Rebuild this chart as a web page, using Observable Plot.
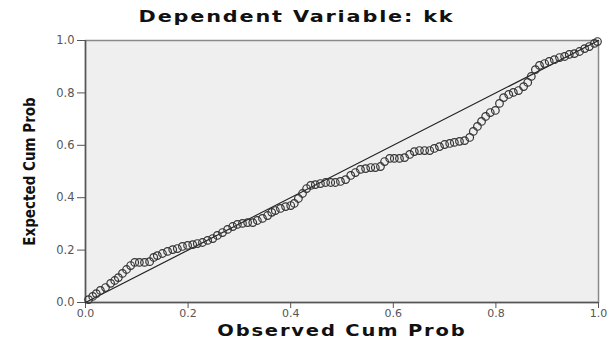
<!DOCTYPE html>
<html><head><meta charset="utf-8">
<script src="https://cdn.jsdelivr.net/npm/d3@7"></script>
<script src="https://cdn.jsdelivr.net/npm/@observablehq/plot@0.6"></script>
<style>
body{margin:0;background:#fff;}
#chart{position:relative;width:613px;height:346px;}
.lbl{position:absolute;left:0;text-align:center;font-family:"DejaVu Sans",sans-serif;font-weight:bold;color:#111;}
.lbl span{display:inline-block;transform:scaleX(1.3);letter-spacing:1.4px;}
#title{top:7px;width:594px;font-size:16px;}
#xlabel{top:324px;width:684px;font-size:15px;line-height:15px;}
</style></head><body><div id="chart"><div id="title" class="lbl"><span></span></div><div id="xlabel" class="lbl"><span></span></div></div>
<script>
const titleText = "Dependent Variable: kk";
const xLabel = "Observed Cum Prob";
const yLabel = "Expected Cum Prob";
const tickValues = [0, 0.2, 0.4, 0.6, 0.8, 1.0];
const refLine = [0, 1];

const observed = [
  0.006,0.014,0.021,0.029,0.039,0.049,0.057,0.064,0.072,0.080,
  0.088,0.096,0.105,0.115,0.125,0.133,0.140,0.150,0.160,0.170,
  0.179,0.189,0.199,0.209,0.218,0.228,0.238,
  0.248,0.257,0.267,0.277,0.287,0.296,0.306,0.316,0.326,0.335,
  0.345,0.355,0.363,0.370,0.380,0.390,0.400,0.407,0.415,0.423,
  0.431,0.439,0.448,0.458,0.468,
  0.478,0.487,0.497,0.507,0.517,0.526,0.536,0.546,0.556,0.565,
  0.575,0.583,0.593,0.602,0.612,0.622,0.632,0.641,0.651,0.661,
  0.671,0.680,0.690,0.700,
  0.710,0.719,0.729,0.739,0.749,0.756,0.764,0.772,0.780,0.789,
  0.799,0.807,0.815,0.825,0.834,0.844,0.854,0.862,0.869,0.877,
  0.885,0.895,0.904,0.914,0.924,0.934,0.943,0.953,0.963,0.973,
  0.982,0.992,0.998
];
const expected = [
  0.011,0.023,0.034,0.046,0.057,0.073,0.084,0.095,0.111,0.126,
  0.141,0.153,0.153,0.153,0.156,0.172,0.179,0.187,0.195,0.202,
  0.206,0.214,0.218,0.221,0.225,0.229,0.237,
  0.244,0.256,0.267,0.279,0.290,0.298,0.302,0.305,0.305,0.313,
  0.321,0.332,0.344,0.351,0.359,0.366,0.370,0.378,0.397,0.416,
  0.435,0.447,0.450,0.454,0.458,
  0.458,0.458,0.462,0.469,0.485,0.496,0.508,0.511,0.515,0.515,
  0.519,0.538,0.550,0.550,0.550,0.553,0.565,0.576,0.580,0.580,
  0.580,0.588,0.595,0.603,
  0.607,0.611,0.615,0.618,0.630,0.653,0.672,0.691,0.710,0.725,
  0.733,0.760,0.782,0.794,0.802,0.809,0.824,0.840,0.863,0.889,
  0.905,0.912,0.920,0.927,0.935,0.939,0.947,0.950,0.958,0.969,
  0.977,0.989,0.996
];

document.querySelector("#title span").textContent = titleText;
document.querySelector("#xlabel span").textContent = xLabel;
const points = observed.map((x, i) => ({x, y: expected[i]}));
const diag = refLine.map(v => ({x: v, y: v}));

const plot = Plot.plot({
  width: 613, height: 346,
  marginLeft: 85, marginRight: 15, marginTop: 40, marginBottom: 44,
  style: {background: "transparent", fontFamily: "DejaVu Sans, sans-serif"},
  x: {domain: [0, 1]},
  y: {domain: [0, 1]},
  marks: [
    Plot.frame({fill: "#efefef", stroke: "#8a8a8a", strokeWidth: 1.5}),
    Plot.ruleX([0], {stroke: "#555", strokeWidth: 1.5}),
    Plot.ruleY([0], {stroke: "#555", strokeWidth: 1.5}),
    Plot.axisX({ticks: tickValues, tickFormat: d3.format(".1f"), tickSize: 6, tickPadding: 1, fontSize: 11, letterSpacing: 1, color: "#555", label: null, stroke: "#555"}),
    Plot.axisY({ticks: tickValues, tickFormat: d3.format(".1f"), tickSize: 8, tickPadding: 3, fontSize: 11.5, letterSpacing: 1, color: "#555", label: null, stroke: "#555"}),
    Plot.line(diag, {x: "x", y: "y", stroke: "#222", strokeWidth: 1.2}),
    Plot.dot(points, {x: "x", y: "y", r: 3.8, stroke: "#333", strokeWidth: 1.2, fill: "none"}),
    Plot.text([yLabel], {frameAnchor: "left", dx: -55, rotate: -90, textAnchor: "middle", fontSize: 15, fontWeight: "bold", fill: "#111", fontFamily: "Liberation Sans Narrow, DejaVu Sans Condensed, sans-serif"})
  ]
});
document.getElementById("chart").appendChild(plot);
</script>
</body></html>
